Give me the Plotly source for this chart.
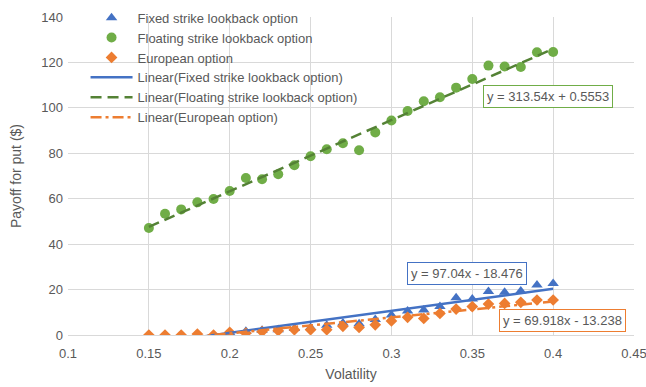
import plotly.graph_objects as go

# Volatility levels and put payoffs ($)
volatility = [0.15, 0.16, 0.17, 0.18, 0.19, 0.20, 0.21, 0.22, 0.23, 0.24, 0.25, 0.26, 0.27,
              0.28, 0.29, 0.30, 0.31, 0.32, 0.33, 0.34, 0.35, 0.36, 0.37, 0.38, 0.39, 0.40]
fixed_strike = [0, 0, 0, 0.3, 0, 1.0, 1.6, 2.1, 2.3, 2.9, 3.3, 4.3, 5.3,
                5.0, 6.8, 8.8, 10.6, 11.0, 12.6, 16.4, 15.8, 19.2, 18.8, 19.4, 22.0, 22.7]
floating_strike = [47.1, 53.4, 55.3, 58.4, 59.9, 63.4, 69.1, 68.6, 70.8, 74.7, 78.7, 81.8, 84.4,
                   81.3, 89.2, 94.4, 98.6, 102.9, 104.7, 108.9, 112.7, 118.6, 118.2, 118.0, 124.5, 124.6]
european = [0, 0, 0, 0.4, 0, 1.2, 0.8, 1.5, 1.9, 2.3, 2.3, 2.3, 3.8,
            3.3, 4.5, 6.2, 7.8, 7.3, 9.5, 11.4, 12.5, 13.6, 13.9, 14.4, 15.4, 15.4]

# Linear trendline coefficients (slope, intercept)
fixed_fit = [97.04, -18.476]
floating_fit = [313.54, 0.5553]
european_fit = [69.918, -13.238]

# Axis ticks
x_ticks = [0.1, 0.15, 0.2, 0.25, 0.3, 0.35, 0.4, 0.45]
x_tick_labels = ["0.1", "0.15", "0.2", "0.25", "0.3", "0.35", "0.4", "0.45"]
y_ticks = [0, 20, 40, 60, 80, 100, 120, 140]

BLUE = "#4472C4"
GREEN = "#70AD47"
DARK_GREEN = "#548235"
ORANGE = "#ED7D31"
TEXT = "#595959"
GRID = "#D9D9D9"
FONT = "Liberation Sans"


def trend(coef):
    return [coef[0] * v + coef[1] for v in volatility]


def eq_text(coef):
    sign = "+" if coef[1] >= 0 else "-"
    return f"y = {coef[0]:g}x {sign} {abs(coef[1]):g}"


fig = go.Figure()

fig.add_trace(go.Scatter(x=volatility, y=fixed_strike, mode="markers",
                         name="Fixed strike lookback option",
                         marker=dict(symbol="triangle-up", size=10, color=BLUE)))
fig.add_trace(go.Scatter(x=volatility, y=floating_strike, mode="markers",
                         name="Floating strike lookback option",
                         marker=dict(symbol="circle", size=10, color=GREEN)))
fig.add_trace(go.Scatter(x=volatility, y=european, mode="markers",
                         name="European option",
                         marker=dict(symbol="diamond", size=9, color=ORANGE)))

fig.add_trace(go.Scatter(x=[volatility[0], volatility[-1]],
                         y=[trend(fixed_fit)[0], trend(fixed_fit)[-1]], mode="lines",
                         name="Linear(Fixed strike lookback option)",
                         line=dict(color=BLUE, width=2.5)))
fig.add_trace(go.Scatter(x=[volatility[0], volatility[-1]],
                         y=[trend(floating_fit)[0], trend(floating_fit)[-1]], mode="lines",
                         name="Linear(Floating strike lookback option)",
                         line=dict(color=DARK_GREEN, width=2.5, dash="11px,6px")))
fig.add_trace(go.Scatter(x=[volatility[0], volatility[-1]],
                         y=[trend(european_fit)[0], trend(european_fit)[-1]], mode="lines",
                         name="Linear(European option)",
                         line=dict(color=ORANGE, width=2.5, dash="11px,4px,3px,4px")))

# Trendline equation labels
for coef, color, ax, ay in [(floating_fit, GREEN, 0.3967, 105.2),
                            (fixed_fit, BLUE, 0.3466, 26.9),
                            (european_fit, ORANGE, 0.406, 6.2)]:
    fig.add_annotation(x=ax, y=ay, xref="x", yref="y", text=eq_text(coef),
                       showarrow=False, font=dict(family=FONT, size=13, color=TEXT),
                       bgcolor="white", bordercolor=color, borderwidth=1, borderpad=3)

fig.update_layout(
    width=646, height=387,
    margin=dict(l=68, r=12, t=17, b=52, autoexpand=False),
    paper_bgcolor="white", plot_bgcolor="white",
    font=dict(family=FONT, size=13, color=TEXT),
    showlegend=True,
    legend=dict(x=0.031, y=1.045, xanchor="left", yanchor="top",
                bgcolor="rgba(0,0,0,0)", font=dict(family=FONT, size=13, color=TEXT),
                tracegroupgap=0, itemwidth=42),
)
fig.update_xaxes(range=[0.1, 0.45], tickvals=x_ticks, ticktext=x_tick_labels,
                 showgrid=True, gridcolor=GRID, automargin=False, ticklabeloverflow="allow",
                 zeroline=False, showline=True, linecolor=GRID, ticklabelstandoff=6,
                 title=dict(text="Volatility", font=dict(family=FONT, size=14, color=TEXT), standoff=9),
                 tickfont=dict(family=FONT, size=13, color=TEXT))
fig.update_yaxes(range=[0, 140], tickvals=y_ticks, showgrid=True, gridcolor=GRID,
                 automargin=False, ticklabeloverflow="allow",
                 zeroline=False, showline=False, ticklabelstandoff=4,
                 title=dict(text="Payoff for put ($)", font=dict(family=FONT, size=14, color=TEXT), standoff=16),
                 tickfont=dict(family=FONT, size=13, color=TEXT))

fig.write_html("out.html")
